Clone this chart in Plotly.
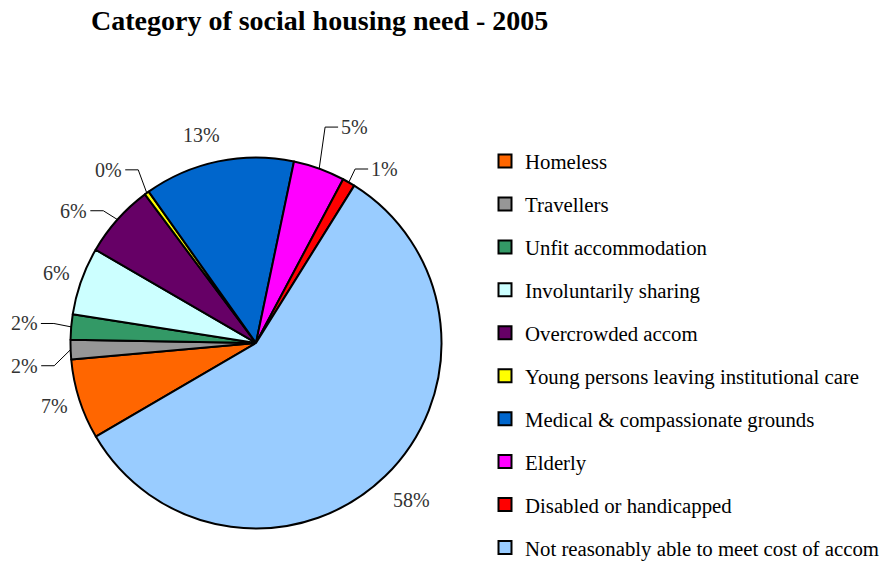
import math
import plotly.graph_objects as go

categories = [
    "Homeless",
    "Travellers",
    "Unfit accommodation",
    "Involuntarily sharing",
    "Overcrowded accom",
    "Young persons leaving institutional care",
    "Medical & compassionate grounds",
    "Elderly",
    "Disabled or handicapped",
    "Not reasonably able to meet cost of accom",
]
values = [7.0, 1.7, 2.2, 5.9, 6.4, 0.4, 13.1, 4.5, 1.1, 57.7]
colors = ["#FF6600", "#969696", "#339966", "#CCFFFF", "#660066",
          "#FFFF00", "#0066CC", "#FF00FF", "#FF0000", "#99CCFF"]

# label placement style (angle nudge in degrees, distance from centre in px, leader line)
label_nudge = [0.3, -4.0, 0.2, -0.3, -3.1, -1.0, -2.9, 0.9, 2.8, -0.6]
label_dist = [211, 216, 216, 211, 212, 217, 215, 231, 207, 221]
label_leader = [False, True, True, False, True, True, False, True, True, False]

W, H = 885, 564
cx, cy, r = 256, 343, 185.5
start_angle = 239.7
FONT = "Liberation Serif"
LABEL_COLOR = "#333333"

fig = go.Figure()
fig.add_trace(go.Pie(
    labels=categories,
    values=values,
    sort=False,
    direction="clockwise",
    rotation=start_angle,
    marker=dict(colors=colors, line=dict(color="black", width=2)),
    textinfo="none",
    showlegend=False,
    hoverinfo="label+percent",
    domain=dict(x=[(cx - r) / W, (cx + r) / W],
                y=[(H - cy - r) / H, (H - cy + r) / H]),
))

# legend entries
for i, (name, col) in enumerate(zip(categories, colors)):
    fig.add_trace(go.Scatter(
        x=[None], y=[None], mode="markers", name=name,
        legendgroup=f"g{i}",
        marker=dict(symbol="square", size=13, color=col,
                    line=dict(color="black", width=2)),
    ))


def polar(angle, dist):
    a = math.radians(angle)
    return cx + dist * math.sin(a), cy - dist * math.cos(a)


def to_paper(px, py):
    return px / W, 1 - py / H


total = sum(values)
acc = start_angle
annotations = []
shapes = []
for i, v in enumerate(values):
    span = 360.0 * v / total
    mid = acc + span / 2
    acc += span
    pct = f"{int(100.0 * v / total + 0.5)}%"
    px, py = polar(mid + label_nudge[i], label_dist[i])
    if label_leader[i]:
        left = px < cx
        ex, ey = polar(mid, r)
        elx = px + (13 if left else -13)
        x0, y0 = to_paper(px, py)
        x1, y1 = to_paper(elx, py)
        x2, y2 = to_paper(ex, ey)
        shapes.append(dict(type="path", xref="paper", yref="paper",
                           path=f"M {x0} {y0} L {x1} {y1} L {x2} {y2}",
                           line=dict(color="black", width=1)))
        tx, ty = to_paper(px + (-1 if left else 1), py)
        annotations.append(dict(x=tx, y=ty, xref="paper", yref="paper",
                                text=pct, showarrow=False,
                                xanchor="right" if left else "left",
                                yanchor="middle",
                                font=dict(family=FONT, size=20, color=LABEL_COLOR)))
    else:
        tx, ty = to_paper(px, py)
        annotations.append(dict(x=tx, y=ty, xref="paper", yref="paper",
                                text=pct, showarrow=False,
                                xanchor="center", yanchor="middle",
                                font=dict(family=FONT, size=20, color=LABEL_COLOR)))

fig.update_layout(
    width=W, height=H,
    margin=dict(l=0, r=0, t=0, b=0, autoexpand=False),
    paper_bgcolor="white", plot_bgcolor="white",
    title=dict(text="<b>Category of social housing need - 2005</b>",
               x=91 / W, xanchor="left", xref="container",
               y=1 - 20 / H, yanchor="middle", yref="container",
               font=dict(family=FONT, size=28, color="black")),
    xaxis=dict(visible=False), yaxis=dict(visible=False),
    legend=dict(x=485 / W, xanchor="left", y=1 - 141 / H, yanchor="top",
                font=dict(family=FONT, size=20.8, color="black"),
                traceorder="grouped", tracegroupgap=12.9,
                bgcolor="rgba(0,0,0,0)"),
    annotations=annotations,
    shapes=shapes,
)

fig.write_html("out.html")
